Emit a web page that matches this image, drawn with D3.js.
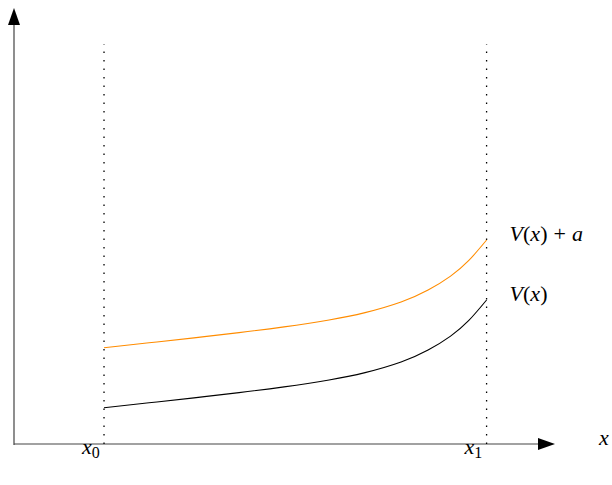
<!DOCTYPE html>
<html>
<head>
<meta charset="utf-8">
<script src="https://cdn.jsdelivr.net/npm/d3@7"></script>
<style>
  html, body { margin: 0; padding: 0; background: #fff; }
  svg { display: block; }
</style>
</head>
<body>
<svg id="chart" width="612" height="485"></svg>
<script>
// Sample points of V(x) between x0 and x1
const xs = [1.0, 1.5, 2.0, 2.5, 3.0, 3.5, 3.9, 4.3, 4.6, 4.85, 5.05, 5.25];
const vValues = [0.454, 0.515, 0.577, 0.642, 0.714, 0.800, 0.892, 1.025, 1.174, 1.349, 1.541, 1.800];
// Vertical shift of the upper curve
const shiftA = 0.75;
// Marked positions on the x axis
const markX = [1.0, 5.25];
const markLabels = ["0", "1"];

const FONT = "'Liberation Serif', 'Times New Roman', serif";

const svg = d3.select("#chart");
const x = d3.scaleLinear().domain([0, 6.01]).range([14, 555]);
const y = d3.scaleLinear().domain([0, 5.45]).range([444, 8]);

// Axes with arrowheads
svg.append("line")
  .attr("x1", x(0)).attr("y1", y(0)).attr("x2", x(6.01) - 16).attr("y2", y(0))
  .attr("stroke", "#444").attr("stroke-width", 1.2);
svg.append("line")
  .attr("x1", x(0)).attr("y1", y(0) + 1).attr("x2", x(0)).attr("y2", y(5.45) + 16)
  .attr("stroke", "#444").attr("stroke-width", 1.2);
svg.append("path")
  .attr("d", `M${x(6.01)},${y(0)} L${x(6.01) - 17},${y(0) - 6} L${x(6.01) - 17},${y(0) + 6} Z`)
  .attr("fill", "#000");
svg.append("path")
  .attr("d", `M${x(0)},${y(5.45)} L${x(0) - 6},${y(5.45) + 17} L${x(0) + 6},${y(5.45) + 17} Z`)
  .attr("fill", "#000");

// Dotted verticals at x0 and x1
svg.selectAll(".mark").data(markX).enter().append("line")
  .attr("class", "mark")
  .attr("x1", d => x(d)).attr("x2", d => x(d))
  .attr("y1", y(0)).attr("y2", y(5.0))
  .attr("stroke", "#000").attr("stroke-width", 1.3)
  .attr("stroke-dasharray", "1.5,7");

const line = d3.line().x(d => x(d[0])).y(d => y(d[1])).curve(d3.curveNatural);

svg.append("path")
  .datum(xs.map((v, i) => [v, vValues[i]]))
  .attr("d", line).attr("fill", "none")
  .attr("stroke", "#000").attr("stroke-width", 1.1);

svg.append("path")
  .datum(xs.map((v, i) => [v, vValues[i] + shiftA]))
  .attr("d", line).attr("fill", "none")
  .attr("stroke", "#ff8c00").attr("stroke-width", 1.1);

function label(parent, px, py) {
  return parent.append("text")
    .attr("x", px).attr("y", py)
    .style("font-family", FONT).style("font-size", "22px").attr("fill", "#000")
    .style("white-space", "pre");
}

// Curve labels
const lastX = xs[xs.length - 1];
const lastV = vValues[vValues.length - 1];
const t1 = label(svg, x(lastX) + 23, y(lastV + shiftA) + 1);
t1.append("tspan").style("font-style", "italic").text("V");
t1.append("tspan").text("(");
t1.append("tspan").style("font-style", "italic").text("x");
t1.append("tspan").text(")");
t1.append("tspan").attr("dx", 6).text("+");
t1.append("tspan").attr("dx", 6).style("font-style", "italic").text("a");

const t2 = label(svg, x(lastX) + 23, y(lastV) + 1);
t2.append("tspan").style("font-style", "italic").text("V");
t2.append("tspan").text("(");
t2.append("tspan").style("font-style", "italic").text("x");
t2.append("tspan").text(")");

// Axis name
label(svg, 599, y(0) + 1).style("font-style", "italic").text("x");

// x0 / x1 labels
markX.forEach((m, i) => {
  const t = label(svg, x(m) - 22, y(0) + 10);
  t.append("tspan").style("font-style", "italic").text("x");
  t.append("tspan").style("font-size", "16px").attr("dy", 4).text(markLabels[i]);
});
</script>
</body>
</html>
